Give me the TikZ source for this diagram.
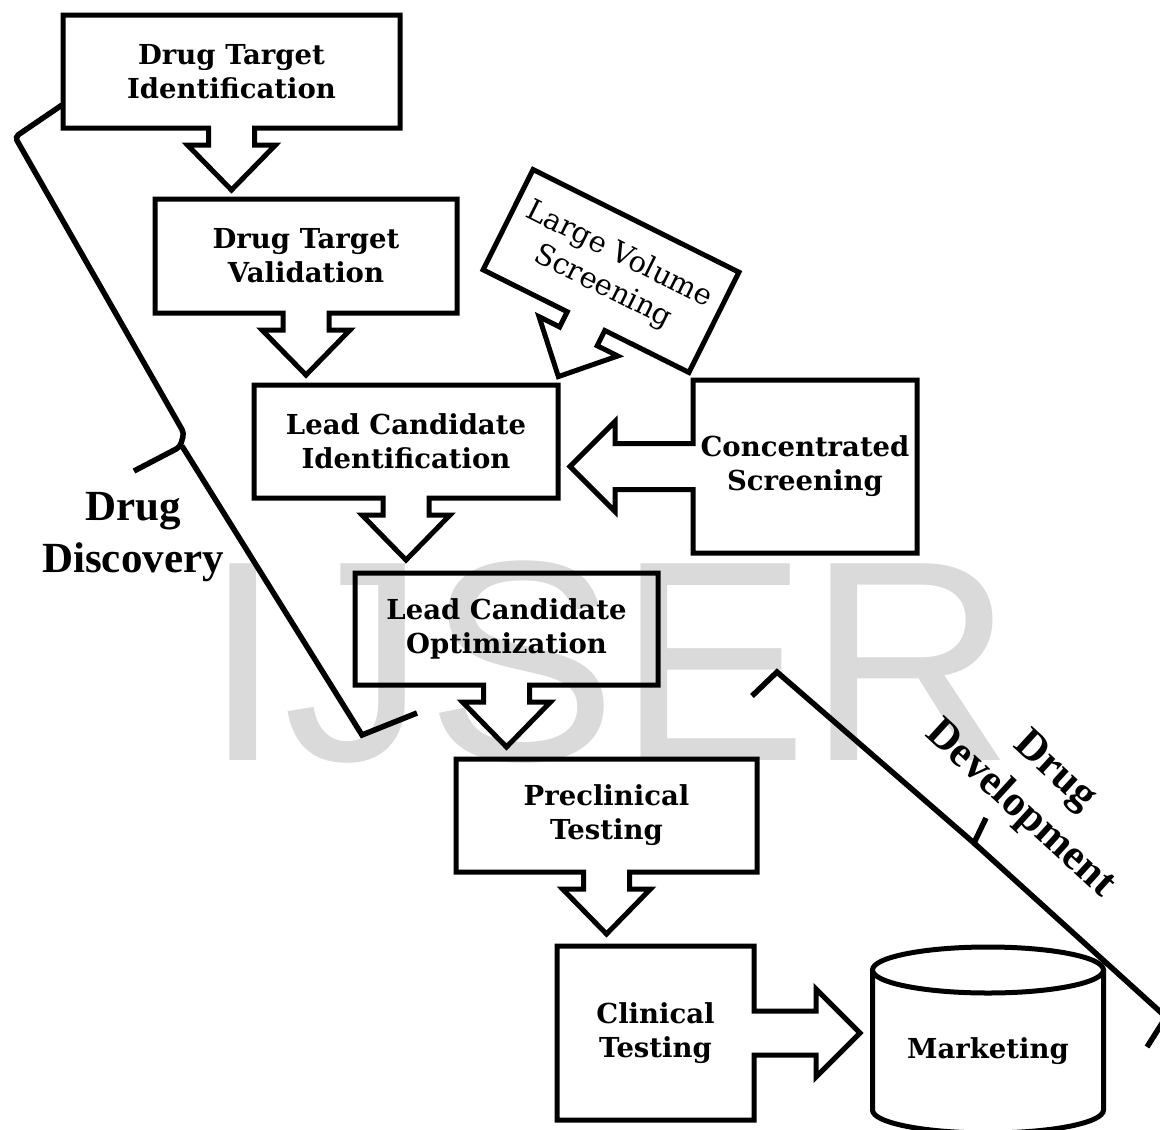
\documentclass[tikz,border=0pt]{standalone}
\usepackage{fontspec}
\setmainfont{DejaVu Serif}
\newfontfamily\bracefont{Liberation Serif}
\newfontfamily\markfont{Liberation Sans}
\usetikzlibrary{calc}
\definecolor{markgray}{RGB}{218,218,218}
\tikzset{every node/.style={font=\fontsize{27.5}{34}\selectfont\bfseries},
  stage/.style={align=center, inner sep=0pt, outer sep=0pt},
  stageline/.style={line width=5pt},
  braceline/.style={line width=5.5pt},
  bracelabel/.style={align=center, font=\bracefont\fontsize{43}{52}\selectfont\bfseries},
  watermark/.style={text=markgray, inner sep=0pt, anchor=base,
    font=\markfont\fontsize{286}{290}\selectfont}}
% box outline with a block arrow coming out of its bottom side
\newcommand{\downstage}[1]{%
  \draw[stageline] ($(#1.south)+(23,0)$) -- (#1.south east) -- (#1.north east)
    -- (#1.north west) -- (#1.south west) -- ($(#1.south)+(-23,0)$)
    -- ++(0,17) -- ++(-21,0) -- ++(44,45) -- ++(44,-45) -- ++(-21,0) -- cycle;}

\begin{document}
\begin{tikzpicture}[x=1pt,y=-1pt]
\useasboundingbox (0,0) rectangle (1160,1130);
\node[watermark] (ijser) at (609,760) {IJSER};

\node[stage, minimum width=337, minimum height=113] (dti) at (231.5,71.5)
  {Drug Target\\Identification};
\node[stage, minimum width=302, minimum height=114] (dtv) at (306,256)
  {Drug Target\\Validation};
\node[stage, minimum width=304, minimum height=113] (lci) at (406,441.5)
  {Lead Candidate\\Identification};
\node[stage, minimum width=303, minimum height=112] (lco) at (506.5,629)
  {Lead Candidate\\Optimization};
\node[stage, minimum width=301, minimum height=113] (pct) at (606.5,815.5)
  {Preclinical\\Testing};
\node[stage, minimum width=224, minimum height=173] (cs) at (805,466.5)
  {Concentrated\\Screening};
\node[stage, minimum width=197, minimum height=174] (cli) at (655.5,1033)
  {Clinical\\Testing};
\node[stage] (mkt) at (988,1051) {Marketing};

\foreach \s in {dti,dtv,lci,lco,pct} \downstage{\s};

\draw[stageline] ($(cs.west)+(0,-23)$) -- (cs.north west) -- (cs.north east)
  -- (cs.south east) -- (cs.south west) -- ($(cs.west)+(0,23)$)
  -- ++(-78,0) -- ++(0,22) -- ++(-45,-45) -- ++(45,-45) -- ++(0,22) -- cycle;
\draw[stageline] ($(cli.east)+(0,22)$) -- (cli.south east) -- (cli.south west)
  -- (cli.north west) -- (cli.north east) -- ($(cli.east)+(0,-22)$)
  -- ++(62,0) -- ++(0,-22) -- ++(44,44) -- ++(-44,44) -- ++(0,-22) -- cycle;

% tilted screening box
\begin{scope}[shift={(611,271)}, rotate=-26.5]
  \node[stage, rotate=-26.5, minimum width=230, minimum height=112,
    font=\fontsize{29}{36}\selectfont] (lvs) at (0,0) {Large Volume\\Screening};
  \draw[stageline] (21,56) -- (115,56) -- (115,-56) -- (-115,-56) -- (-115,56)
    -- (-21,56) -- (-21,73) -- (-44,73) -- (0,118) -- (44,73) -- (21,73) -- cycle;
\end{scope}

% cylinder
\draw[stageline] (988,970) ellipse [x radius=115.5, y radius=23];
\draw[stageline] (872.5,970) -- (872.5,1110)
  arc[start angle=180, end angle=0, x radius=115.5, y radius=23] -- (1103.5,970);

% brackets
\draw[braceline, rounded corners=4pt] (62,105) -- (15,137) -- (184,433)
  -- (180,447) -- (134,471);
\draw[braceline] (182,446) -- (362,735) -- (417,713);
\node[bracelabel] (ddc) at (133,537) {Drug\\Discovery};
\draw[braceline] (752,696) -- (777,672) -- (974,843) -- (986,818);
\draw[braceline] (974,843) -- (1166,1017) -- (1147,1047);
\node[bracelabel, rotate=-42.5] (ddv) at (1037,791) {Drug\\Development};
\end{tikzpicture}
\end{document}
